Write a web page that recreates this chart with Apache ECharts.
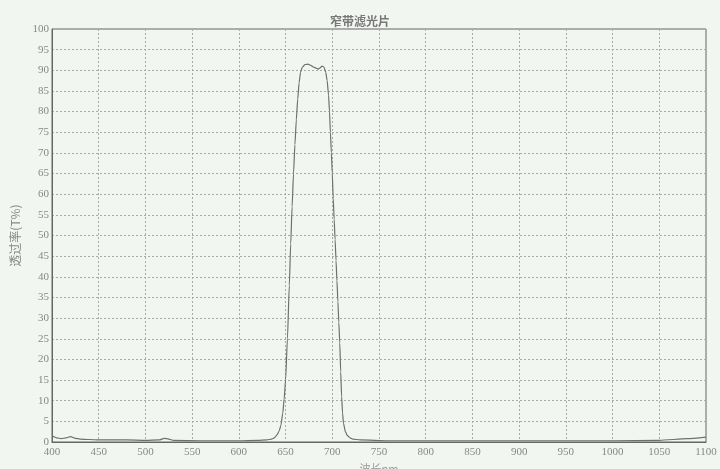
<!DOCTYPE html>
<html><head><meta charset="utf-8">
<script src="https://cdn.jsdelivr.net/npm/echarts@6/dist/echarts.min.js"></script>
<style>html,body{margin:0;padding:0;background:#f2f6f1;}#c{width:720px;height:469px;}</style>
</head><body><div id="c"></div>
<script>
var title = '窄带滤光片';
var xName = '波长nm';
var yName = '透过率(T%)';
var wavelength = [400,405,410,415,420,425,430,440,450,480,500,515,520,525,530,560,600,620,630,635,638,641,643,645,647,648.5,650,652,654,655.5,657,658.5,660,661.5,663,664.5,666,668,671,674,677,680,683,685,687,689,691,693,694.5,696,697,698,699,700,701,702,703,704,705,706,707,708,709,710,711,712,714,716,719,722,730,760,800,900,1000,1050,1080,1100];
var transmittance = [1.5,1.0,0.8,1.0,1.3,0.9,0.7,0.6,0.5,0.5,0.4,0.5,0.9,0.7,0.4,0.3,0.3,0.4,0.5,0.7,1.0,1.8,2.6,4,7,10.5,15,25,38,48,57,65,72,78,83,87,89.5,90.8,91.4,91.5,91.2,90.8,90.5,90.3,90.6,91.0,90.8,89.5,87.5,84,80,75,70,65,59,54,49,44,39,34,29,24,17,11,7,4.5,2.5,1.6,1.0,0.7,0.5,0.3,0.3,0.3,0.3,0.4,0.8,1.2];
var xTicks = {min:400, max:1100, interval:50};
var yTicks = {min:0, max:100, interval:5};

var pts = wavelength.map(function(w,i){return [w, transmittance[i]];});
var chart = echarts.init(document.getElementById('c'));
var serif = 'Liberation Serif';
chart.setOption({
  backgroundColor:'#f2f6f1',
  animation:false,
  title:{text:title,left:'center',top:10,textStyle:{fontFamily:'Noto Sans CJK SC',fontSize:12,fontWeight:'bold',color:'#777'}},
  grid:{left:52,right:14,top:29,bottom:27,show:true,borderColor:'#666',borderWidth:1,backgroundColor:'transparent',outerBoundsMode:'none',containLabel:false},
  xAxis:{type:'value',min:xTicks.min,max:xTicks.max,interval:xTicks.interval,
    name:xName,nameLocation:'middle',nameGap:19,nameTextStyle:{fontFamily:'Noto Sans CJK SC',fontSize:11,color:'#999'},
    axisLine:{show:true,lineStyle:{color:'#666',width:1}},axisTick:{show:false},
    axisLabel:{margin:5,fontFamily:serif,fontSize:11,color:'#888',formatter:function(v){return String(v);}},
    splitLine:{show:true,lineStyle:{color:'#aaa',type:[2,2],width:1}}},
  yAxis:{type:'value',min:yTicks.min,max:yTicks.max,interval:yTicks.interval,
    name:yName,nameLocation:'middle',nameGap:30,nameRotate:90,nameTextStyle:{fontFamily:'Noto Sans CJK SC',fontSize:12,color:'#888'},
    axisLine:{show:true,lineStyle:{color:'#666',width:1}},axisTick:{show:false},
    axisLabel:{margin:3,fontFamily:serif,fontSize:11,color:'#888',formatter:function(v){return String(v);}},
    splitLine:{show:true,lineStyle:{color:'#aaa',type:[2,2],width:1}}},
  series:[{type:'line',data:pts,showSymbol:false,smooth:0.2,smoothMonotone:'x',
    lineStyle:{color:'#6f6f6f',width:1.2}}]
});
</script></body></html>
